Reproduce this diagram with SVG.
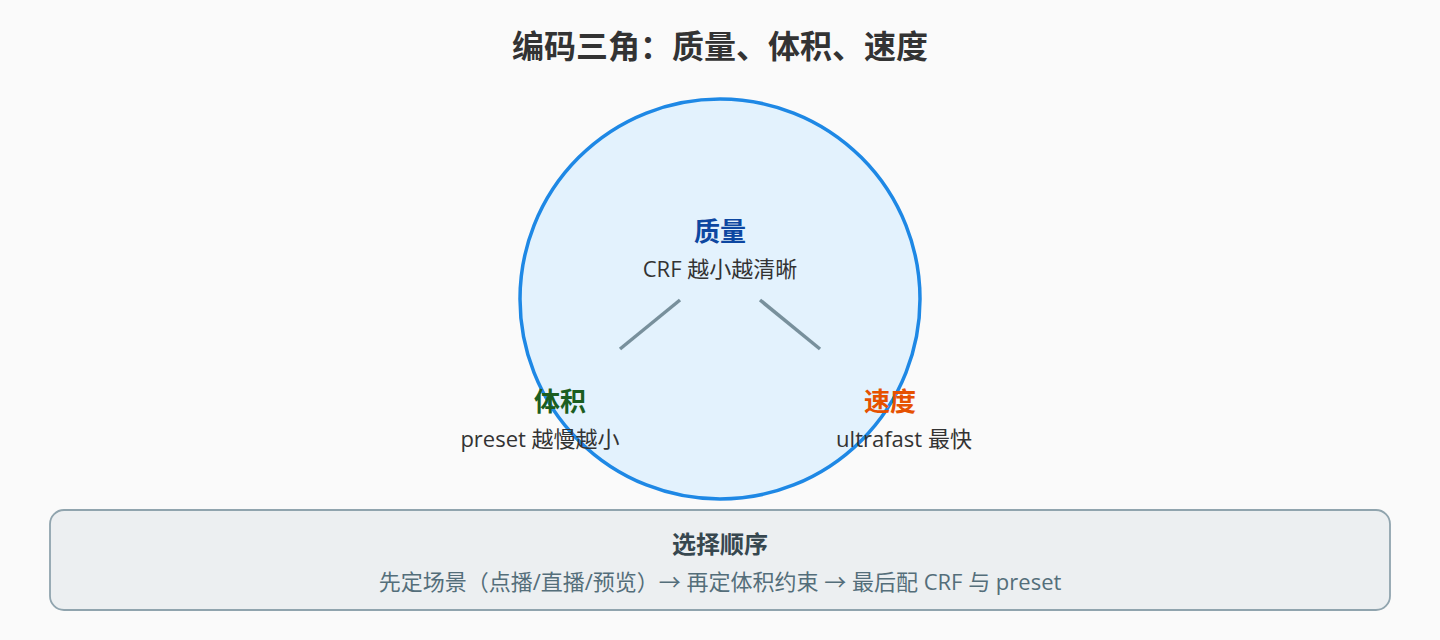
<svg xmlns="http://www.w3.org/2000/svg" width="1440" height="640" viewBox="0 0 1440 640">
<style>
text{font-family:"Noto Sans CJK SC","Noto Sans",sans-serif;text-anchor:middle}
.title{font-size:32px;font-weight:700;fill:#333}
.h{font-size:26px;font-weight:700}
.s{font-size:22px;fill:#333;font-family:"Open Sans","Noto Sans CJK SC",sans-serif}
.conn line{stroke:#78909c;stroke-width:3.5}
</style>
<rect width="1440" height="640" fill="#fafafa"/>
<text class="title" x="720" y="58">编码三角：质量、体积、速度</text>
<g id="triangle">
<circle cx="720" cy="299" r="200" fill="#e3f2fd" stroke="#1e88e5" stroke-width="3.5"/>
</g>
<g class="conn" id="connectors">
<line x1="680" y1="300" x2="620" y2="349"/>
<line x1="760" y1="300" x2="820" y2="349"/>
</g>
<g id="quality">
<text class="h" x="720" y="241" fill="#0d47a1">质量</text>
<text class="s" x="720" y="277">CRF 越小越清晰</text>
</g>
<g id="size">
<text class="h" x="560" y="411" fill="#1b5e20">体积</text>
<text class="s" x="540" y="447">preset 越慢越小</text>
</g>
<g id="speed">
<text class="h" x="890" y="411" fill="#e65100">速度</text>
<text class="s" x="904" y="447">ultrafast 最快</text>
</g>
<g id="order">
<rect x="50" y="510" width="1340" height="100" rx="14" fill="#eceff1" stroke="#90a4ae" stroke-width="1.8"/>
<text x="720" y="553" font-size="24" font-weight="700" fill="#37474f">选择顺序</text>
<text class="s" x="720" y="590" style="fill:#546e7a">先定场景（点播/直播/预览）→ 再定体积约束 → 最后配 CRF 与 preset</text>
</g>
</svg>
